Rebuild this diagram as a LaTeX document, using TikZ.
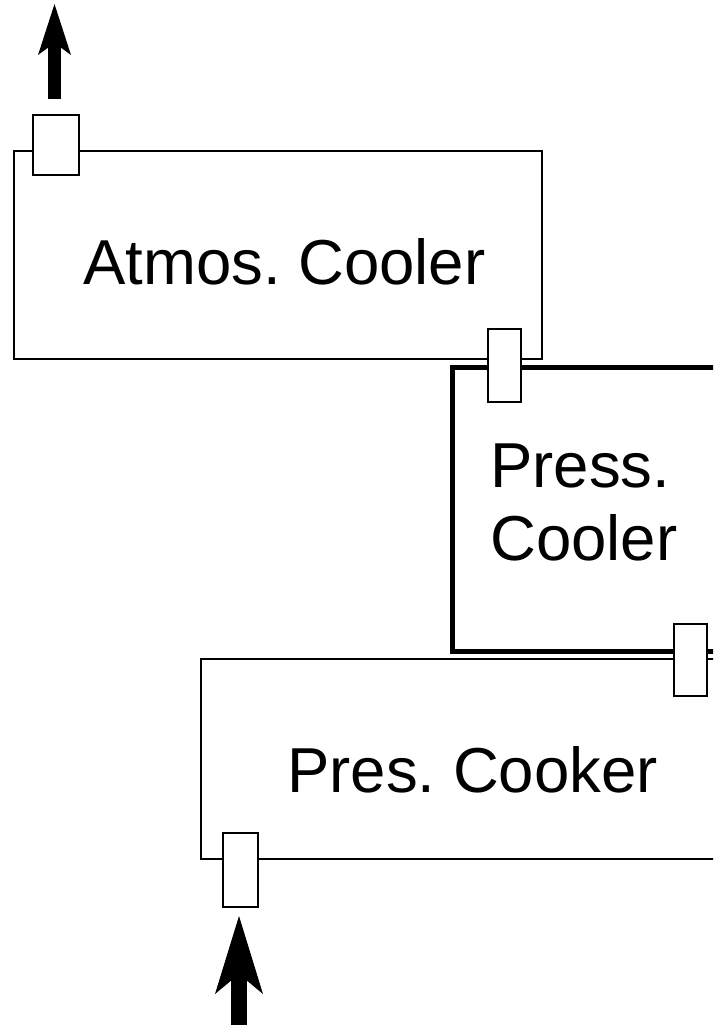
\documentclass[tikz,border=0pt]{standalone}
\usepackage{fontspec}
\setmainfont{Liberation Sans}
\usetikzlibrary{arrows.meta}

\begin{document}
\begin{tikzpicture}[x=1pt, y=-1pt,
    thinbox/.style={line width=2pt},
    thickbox/.style={line width=5pt},
    portbox/.style={draw, line width=2pt, fill=white, inner sep=0pt, minimum width=33pt, minimum height=73pt},
    unitname/.style={anchor=base west, inner sep=0pt, font=\fontsize{63.5}{73}\selectfont\frenchspacing},
    ventarrow/.style={line width=13pt, -{Stealth[length=51pt, width=33pt, inset=12pt, line width=0pt]}},
    feedarrow/.style={line width=16pt, -{Stealth[length=78pt, width=48pt, inset=20pt, line width=0pt]}}]
    % 1. page frame (cuts the open right ends of the lower vessels)
    \clip (0,0) rectangle (713,1025);

    % 2. vessel outlines
    \draw[thinbox] (14,151) rectangle (542,359);
    \draw[thickbox] (740,367) -- (452,367) -- (452,651) -- (740,651);
    \draw[thinbox] (740,659) -- (201,659) -- (201,859) -- (740,859);

    % 3. ports on the vessel walls
    \node[portbox, minimum width=46pt, minimum height=60pt] (atmosout) at (56,145) {};
    \node[portbox] (atmosin) at (504.5,365.5) {};
    \node[portbox, minimum height=72pt] (pcout) at (690.5,660) {};
    \node[portbox, minimum width=35pt, minimum height=74pt] (cookin) at (240.5,870) {};

    % 4. vessel names
    \node[unitname] (atmos) at (83,284) {Atmos. Cooler};
    \node[unitname] (press) at (490,487) {Press.};
    \node[unitname] (cooler) at (490,560) {Cooler};
    \node[unitname] (cooker) at (287,792) {Pres. Cooker};

    % 5. product out at the top, feed in at the bottom
    \coordinate (vent) at (54.5,4);
    \draw[ventarrow] ([xshift=-1.5pt, yshift=15pt]atmosout.north) -- (vent);
    \coordinate (feed) at (239,1030);
    \draw[feedarrow] (feed) -- ([xshift=-1.5pt, yshift=-8pt]cookin.south);
\end{tikzpicture}
\end{document}
